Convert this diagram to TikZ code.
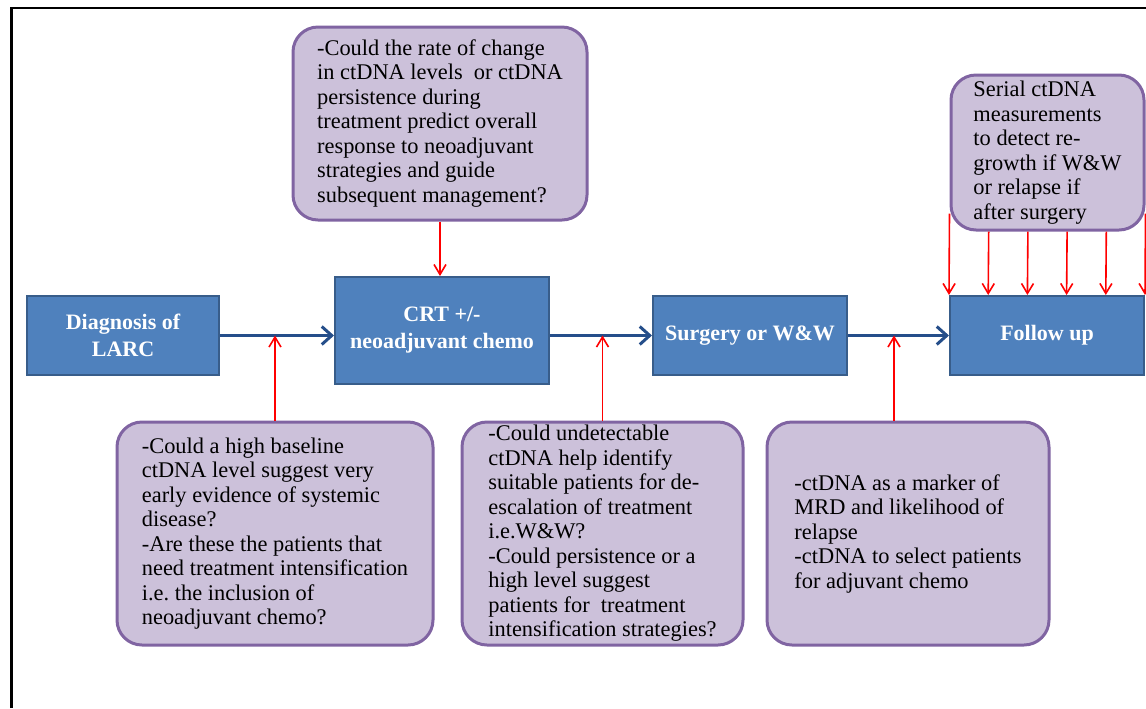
\documentclass[tikz,border=0pt]{standalone}
\usepackage{fontspec}
\setmainfont{Liberation Serif}
\usetikzlibrary{arrows.meta,positioning,calc}

\definecolor{stageblue}{HTML}{4F81BD}
\definecolor{stageedge}{HTML}{385D8A}
\definecolor{flowblue}{HTML}{254E8A}
\definecolor{queryfill}{HTML}{CCC1DA}
\definecolor{queryedge}{HTML}{8064A2}

\begin{document}
\begin{tikzpicture}[
    x=0.5pt, y=-0.5pt,
    stage/.style={%
      draw=stageedge,
      fill=stageblue,
      line width=1pt,
      text=white,
      font=\fontsize{11}{13.5}\selectfont\bfseries,
      align=center,
      inner sep=0pt,
    },
    query/.style={%
      draw=queryedge,
      fill=queryfill,
      line width=1.5pt,
      rounded corners=12.5pt,
      align=left,
      font=\fontsize{11.2}{12.25}\selectfont,
      inner sep=0pt,
    },
    flow/.style={draw=flowblue, line width=1.5pt, -{Straight Barb[length=5pt,width=9pt]}},
    probe/.style={draw=red, line width=0.8pt, -{Straight Barb[length=5pt,width=6pt]}},
  ]

    \useasboundingbox (0,0) rectangle (1146,708);
    \draw [line width=1.4pt] (11.5,708) |- (1146,8);

    \node [stage, minimum width=96pt, minimum height=39.5pt] (diag) at (123,335.5) {Diagnosis of\\LARC};
    \node [stage, minimum width=107pt, minimum height=53.5pt] (crt) at (442,330.5) {CRT +/-\\neoadjuvant chemo};
    \node [stage, minimum width=97pt, minimum height=39.5pt] (surg) at (750,335.5) {Surgery or W\&W};
    \node [stage, minimum width=97pt, minimum height=39.5pt] (follow) at (1047,335.5) {Follow up};

    \node [query, minimum width=147pt, minimum height=96.5pt] (during) at (440,123.5)
      {-Could the rate of change\\in ctDNA levels\ \ or ctDNA\\persistence during\\treatment predict overall\\response to neoadjuvant\\strategies and guide\\subsequent management?};
    \node [query, minimum width=96.5pt, minimum height=77.5pt] (serial) at (1047.5,152.5)
      {Serial ctDNA\\measurements\\to detect re-\\growth if W\&W\\or relapse if\\after surgery};
    \node [query, minimum width=158pt, minimum height=111.5pt] (baseline) at (275,533.5)
      {-Could a high baseline\\ctDNA level suggest very\\early evidence of systemic\\disease?\\-Are these the patients that\\need treatment intensification\\i.e.\ the inclusion of\\neoadjuvant chemo?};
    \node [query, minimum width=140.5pt, minimum height=111.5pt] (postcrt) at (602.5,533.5)
      {-Could undetectable\\ctDNA help identify\\suitable patients for de-\\escalation of treatment\\i.e.W\&W?\\-Could persistence or a\\high level suggest\\patients for\ \ treatment\\intensification strategies?};
    \node [query, minimum width=141pt, minimum height=111.5pt] (mrd) at (908,533.5)
      {-ctDNA as a marker of\\MRD and likelihood of\\relapse\\-ctDNA to select patients\\for adjuvant chemo};

    \draw [flow] (diag.east) -- (diag.east -| crt.west);
    \draw [flow] (crt.east |- surg.west) -- (surg.west);
    \draw [flow] (surg.east) -- (follow.west);

    \draw [probe] (during.south) -- (during.south |- crt.north);
    \draw [probe] (baseline.north) -- (baseline.north |- diag.east);
    \draw [probe] (postcrt.north) -- (postcrt.north |- surg.west);
    \draw [probe] ([xshift=-7pt]mrd.north) -- ([xshift=-7pt]mrd.north |- surg.east);
    \draw [probe] ([yshift=9pt]serial.south west) -- (follow.north west);
    \foreach \f in {0.2,0.4,0.6,0.8}
      \draw [probe] ($(serial.south west)!\f!(serial.south east)$) -- ($(follow.north west)!\f!(follow.north east)$);
    \draw [probe] ([yshift=9pt]serial.south east) -- (follow.north east);

\end{tikzpicture}
\end{document}
